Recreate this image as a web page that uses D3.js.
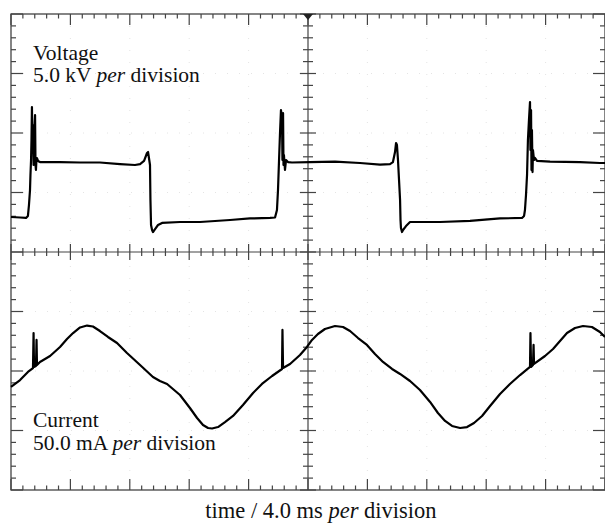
<!DOCTYPE html>
<html>
<head>
<meta charset="utf-8">
<script src="https://cdn.jsdelivr.net/npm/d3@7"></script>
<style>
  html, body { margin: 0; padding: 0; background: #fff; }
  svg { display: block; }
  text { font-family: "Liberation Serif", "Times New Roman", serif; fill: #111; }
</style>
</head>
<body>
<svg id="chart" width="605" height="525"></svg>
<script>
// ---- Data ----
// time in ms (4.0 ms per division, 10 divisions)
const divisionsX = 10, divisionsY = 8, msPerDiv = 4.0, kVPerDiv = 5.0, mAPerDiv = 50.0;

// Voltage trace: time (ms), voltage (kV, screen centre = 0)
const voltageTime = [0,0.61,1.01,1.14,1.21,1.28,1.31,1.35,1.38,1.41,1.45,1.48,1.52,1.55,1.62,1.65,1.68,1.72,1.75,1.82,1.95,3.30,4.65,5.99,7.34,8.35,8.69,8.96,9.16,9.23,9.29,9.36,9.39,9.43,9.50,9.56,9.70,9.90,10.17,11.38,12.73,14.75,16.09,17.44,17.78,17.91,17.98,18.05,18.11,18.18,18.25,18.28,18.32,18.35,18.38,18.45,18.52,18.65,18.92,20.13,21.82,23.50,24.85,25.52,25.72,25.86,25.93,25.99,26.06,26.13,26.20,26.23,26.26,26.33,26.40,26.60,26.87,28.89,30.91,32.93,34.41,34.55,34.61,34.68,34.75,34.81,34.88,34.95,34.98,35.02,35.05,35.08,35.12,35.15,35.22,35.29,35.42,36.30,38.32,39.66,40.0];
const voltageKV = [2.94,2.90,2.86,3.03,3.95,5.21,6.47,7.73,9.41,12.18,8.57,10.67,7.31,9.41,11.51,7.31,6.89,7.90,7.90,7.65,7.56,7.56,7.52,7.52,7.39,7.31,7.39,7.65,8.32,8.40,7.90,7.31,4.37,2.27,1.85,1.68,1.93,2.27,2.44,2.52,2.52,2.69,2.82,2.86,2.90,3.53,5.21,7.73,9.83,11.93,11.26,7.73,11.68,7.31,8.15,6.89,7.73,7.56,7.52,7.56,7.60,7.48,7.35,7.39,7.56,8.40,9.16,8.99,7.73,6.05,4.37,2.69,2.02,1.68,1.85,2.18,2.52,2.52,2.61,2.82,2.86,3.03,3.53,4.79,6.47,9.41,11.09,12.60,8.57,11.93,6.89,10.25,6.72,8.57,7.73,7.90,7.65,7.60,7.56,7.48,7.48];

// Current trace: time (ms), current (mA, screen centre = 0)
const currentTime = [0,0.61,1.14,1.48,1.52,1.55,1.68,1.72,1.75,1.95,2.63,3.30,3.77,4.18,4.65,5.12,5.52,5.99,6.53,7.14,7.81,8.69,9.56,10.03,10.51,11.38,12.05,12.53,12.93,13.27,13.54,13.94,14.41,14.95,15.62,16.30,16.90,17.58,18.25,18.28,18.32,18.79,19.46,19.93,20.27,20.67,21.14,21.82,22.36,22.83,23.37,23.97,24.51,25.05,25.66,26.20,26.87,27.54,28.22,28.75,29.23,29.70,30.24,30.71,31.18,31.72,32.26,32.93,33.60,34.28,34.95,34.98,35.02,35.15,35.19,35.22,35.96,36.50,36.97,37.44,37.98,38.52,39.12,39.66,40.0];
const currentMA = [-113.4,-107.6,-100.8,-97.5,-68.1,-96.6,-95.8,-73.9,-95.0,-92.4,-87.4,-79.8,-73.1,-68.1,-63.4,-61.8,-62.6,-66.4,-71.4,-76.5,-84.9,-95.0,-105.0,-108.4,-110.9,-120.2,-131.1,-139.5,-145.4,-147.9,-148.3,-147.1,-142.9,-137.8,-128.6,-118.5,-110.9,-104.2,-98.3,-65.5,-97.5,-94.1,-86.6,-79.8,-73.9,-68.9,-64.7,-62.2,-63.0,-66.4,-72.3,-78.1,-85.7,-92.4,-98.3,-102.5,-108.4,-116.0,-126.0,-135.3,-142.0,-146.2,-147.9,-147.1,-143.7,-137.8,-129.4,-119.3,-110.9,-103.4,-96.6,-68.1,-96.6,-95.0,-78.1,-94.1,-87.4,-81.5,-74.8,-68.1,-63.9,-62.2,-63.0,-67.2,-71.4];

const voltageLabel = ["Voltage", "5.0 kV ", "per", " division"];
const currentLabel = ["Current", "50.0 mA ", "per", " division"];
const timeLabel = ["time / 4.0 ms ", "per", " division"];

// ---- Layout ----
const plotLeft = 11, plotRight = 605, plotTop = 14, plotBottom = 490;
const svg = d3.select("#chart");

const x = d3.scaleLinear().domain([0, divisionsX * msPerDiv]).range([plotLeft, plotRight]);
const yDiv = d3.scaleLinear().domain([-divisionsY / 2, divisionsY / 2]).range([plotBottom, plotTop]);
const yV = d3.scaleLinear().domain([-divisionsY / 2 * kVPerDiv, divisionsY / 2 * kVPerDiv]).range([plotBottom, plotTop]);
const yI = d3.scaleLinear().domain([-divisionsY / 2 * mAPerDiv, divisionsY / 2 * mAPerDiv]).range([plotBottom, plotTop]);

const g = svg.append("g");
const gridColor = "#444";

// faint dotted graticule lines
const dotG = g.append("g").attr("stroke", "#e4e4e4").attr("stroke-width", 1).attr("stroke-dasharray", "1,11");
d3.range(1, divisionsX).filter(i => i !== divisionsX / 2).forEach(i => {
  dotG.append("line").attr("x1", x(i * msPerDiv)).attr("x2", x(i * msPerDiv)).attr("y1", plotTop).attr("y2", plotBottom);
});
d3.range(-divisionsY / 2 + 1, divisionsY / 2).filter(i => i !== 0).forEach(i => {
  dotG.append("line").attr("x1", plotLeft).attr("x2", plotRight).attr("y1", yDiv(i)).attr("y2", yDiv(i));
});

// frame
g.append("rect").attr("x", plotLeft).attr("y", plotTop).attr("width", plotRight - plotLeft).attr("height", plotBottom - plotTop)
  .attr("fill", "none").attr("stroke", gridColor).attr("stroke-width", 1.3);

// centre lines
g.append("line").attr("x1", plotLeft).attr("x2", plotRight).attr("y1", yDiv(0)).attr("y2", yDiv(0))
  .attr("stroke", gridColor).attr("stroke-width", 1.2);
g.append("line").attr("x1", x(divisionsX / 2 * msPerDiv)).attr("x2", x(divisionsX / 2 * msPerDiv)).attr("y1", plotTop).attr("y2", plotBottom)
  .attr("stroke", gridColor).attr("stroke-width", 1.2);

// ticks every 0.2 division
const tg = g.append("g").attr("stroke", gridColor).attr("stroke-width", 1.2);
const xTicks = d3.range(0, divisionsX * 5 + 1).map(k => k * msPerDiv / 5);
xTicks.forEach((t, k) => {
  const px = x(t);
  const major = k % 5 === 0;
  tg.append("line").attr("x1", px).attr("x2", px).attr("y1", plotTop).attr("y2", plotTop + (major ? 11 : 4.5));
  tg.append("line").attr("x1", px).attr("x2", px).attr("y1", plotBottom).attr("y2", plotBottom - (major ? 11 : 4.5));
  const cy = yDiv(0);
  tg.append("line").attr("x1", px).attr("x2", px).attr("y1", cy - (major ? 8 : 4)).attr("y2", cy + (major ? 8 : 4));
});
const yTicks = d3.range(-divisionsY / 2 * 5, divisionsY / 2 * 5 + 1).map(k => k / 5);
yTicks.forEach((d) => {
  const py = yDiv(d);
  const major = Math.abs(Math.round(d * 5)) % 5 === 0;
  tg.append("line").attr("x1", plotLeft).attr("x2", plotLeft + (major ? 12 : 5)).attr("y1", py).attr("y2", py);
  tg.append("line").attr("x1", plotRight).attr("x2", plotRight - (major ? 12 : 5)).attr("y1", py).attr("y2", py);
  const cx = x(divisionsX / 2 * msPerDiv);
  tg.append("line").attr("x1", cx - (major ? 8 : 5)).attr("x2", cx + (major ? 8 : 5)).attr("y1", py).attr("y2", py);
});

// trigger marker at top centre
const cxm = x(divisionsX / 2 * msPerDiv);
g.append("path").attr("d", `M${cxm - 5},${plotTop} L${cxm + 5},${plotTop} L${cxm},${plotTop + 6} Z`).attr("fill", "#222");

// traces
const vData = voltageTime.map((t, i) => [t, voltageKV[i]]);
const iData = currentTime.map((t, i) => [t, currentMA[i]]);
const lineV = d3.line().x(d => x(d[0])).y(d => yV(d[1]));
const lineI = d3.line().x(d => x(d[0])).y(d => yI(d[1]));
g.append("path").datum(vData).attr("d", lineV).attr("fill", "none").attr("stroke", "#000").attr("stroke-width", 2.2).attr("stroke-linejoin", "round");
g.append("path").datum(iData).attr("d", lineI).attr("fill", "none").attr("stroke", "#000").attr("stroke-width", 2.2).attr("stroke-linejoin", "round");

// labels
function label(parts, xx, y1, y2, size) {
  svg.append("text").attr("x", xx).attr("y", y1).attr("font-size", size).text(parts[0]);
  const t = svg.append("text").attr("x", xx).attr("y", y2).attr("font-size", size);
  t.append("tspan").text(parts[1]);
  t.append("tspan").attr("font-style", "italic").text(parts[2]);
  t.append("tspan").text(parts[3]);
}
label(voltageLabel, 33, 60, 82, 21.5);
label(currentLabel, 33, 427, 450, 21.5);

const tl = svg.append("text").attr("x", 321).attr("y", 518).attr("text-anchor", "middle").attr("font-size", 22.5);
tl.append("tspan").text(timeLabel[0]);
tl.append("tspan").attr("font-style", "italic").text(timeLabel[1]);
tl.append("tspan").text(timeLabel[2]);
</script>
</body>
</html>
